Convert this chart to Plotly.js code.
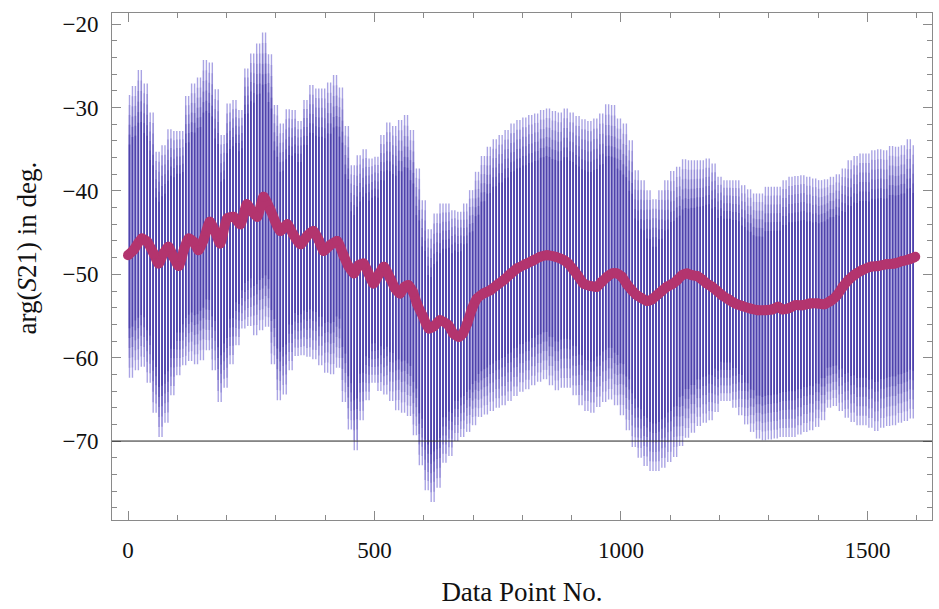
<!DOCTYPE html>
<html>
<head>
<meta charset="utf-8">
<script src="https://cdn.plot.ly/plotly-3.0.1.min.js"></script>
<style>
html,body{margin:0;padding:0;background:#fff;}
#chart{width:939px;height:609px;}
</style>
</head>
<body>
<div id="chart"></div>
<script>
// Raw signal: oscillation peaks (at data points 0,12,24,...) and troughs (at 6,18,30,...), in degrees
const peakStep = 12;
const peaks = [
-28.5,-27.4,-25.5,-27.1,-30.6,-35.3,-34.5,-32.6,-32.8,-32.8,
-28.6,-27.1,-26.4,-24.3,-24.6,-27.8,-33.3,-29.5,-29.1,-30.3,
-25.3,-23.5,-22.3,-21.0,-23.6,-29.7,-31.9,-30.2,-30.3,-31.6,
-29.1,-27.3,-27.7,-27.7,-27.0,-26.1,-27.6,-32.2,-36.9,-35.7,
-35.0,-36.1,-35.9,-33.3,-31.8,-32.2,-31.5,-30.9,-32.7,-37.3,
-41.1,-44.6,-42.7,-41.5,-41.5,-42.3,-42.5,-41.5,-39.9,-37.7,
-35.8,-34.7,-33.8,-33.3,-32.7,-31.9,-31.5,-31.2,-30.9,-30.7,
-30.3,-30.1,-30.4,-30.6,-30.1,-30.6,-31.0,-31.4,-31.6,-31.3,
-30.7,-29.6,-29.7,-31.3,-31.9,-33.9,-37.5,-38.7,-39.9,-41.0,
-39.9,-38.7,-37.6,-37.1,-36.2,-36.3,-36.3,-36.3,-36.1,-36.7,
-38.3,-38.7,-38.7,-38.7,-39.3,-39.8,-40.3,-40.3,-39.5,-39.5,
-39.5,-38.7,-38.3,-38.2,-38.1,-38.3,-38.5,-38.7,-38.6,-38.3,
-38.0,-37.3,-36.3,-35.8,-35.5,-35.5,-35.1,-35.0,-35.1,-34.6,
-34.7,-34.5,-33.8,-34.5
];
const troughs = [
-62.4,-61.5,-61.1,-63.0,-66.6,-69.5,-67.8,-64.5,-62.1,-60.9,
-60.4,-60.8,-60.3,-59.1,-61.5,-65.3,-63.6,-60.8,-58.5,-56.5,
-56.2,-57.3,-56.7,-56.3,-60.8,-65.1,-64.4,-61.5,-59.8,-59.7,
-59.9,-60.2,-60.9,-61.8,-62.0,-61.2,-65.3,-68.6,-71.1,-67.5,
-65.1,-63.0,-64.0,-64.4,-65.2,-66.3,-66.6,-67.0,-69.3,-72.9,
-75.9,-77.3,-75.6,-72.6,-71.8,-70.0,-69.5,-68.9,-68.1,-67.1,
-66.8,-66.4,-66.0,-65.7,-65.2,-64.6,-64.1,-63.8,-63.3,-62.9,
-62.6,-63.3,-63.9,-63.6,-63.6,-64.5,-65.7,-66.4,-66.6,-65.9,
-65.3,-65.0,-65.7,-66.9,-68.7,-70.7,-72.0,-73.0,-73.6,-73.6,
-73.2,-72.5,-71.9,-70.6,-69.6,-69.0,-68.2,-67.8,-67.5,-66.5,
-65.2,-65.2,-66.0,-66.9,-68.0,-68.9,-69.7,-69.9,-69.8,-69.7,
-69.5,-69.5,-69.5,-69.2,-68.9,-68.7,-68.3,-67.5,-66.0,-65.8,
-66.4,-67.2,-67.7,-68.1,-68.1,-68.4,-68.8,-68.4,-68.2,-68.1,
-67.8,-67.6,-67.3
];
// Smoothed signal
const smoothX = [
0,11,28,39,52,62,72,82,92,103,113,123,133,143,153,166,177,187,201,214,
228,241,252,262,275,289,309,323,335,350,363,376,387,397,410,424,437,447,458,468,
478,488,498,508,519,532,542,552,561,569,578,586,598,610,621,633,650,660,671,679,
688,698,708,721,735,748,762,775,789,806,823,836,850,867,884,893,904,913,924,938,
951,961,972,982,992,1002,1012,1022,1032,1043,1053,1063,1073,1083,1093,1103,1114,1124,1134,1144,
1154,1164,1174,1185,1195,1205,1218,1232,1246,1262,1277,1293,1308,1319,1327,1339,1354,1368,1384,1400,
1412,1425,1437,1450,1461,1475,1489,1506,1522,1538,1555,1571,1585,1597
];
const smoothY = [
-47.7,-47.1,-45.7,-46.1,-47.5,-48.7,-47.5,-46.7,-47.9,-49.0,-47.1,-45.7,-46.1,-47.1,-45.9,-43.7,-44.9,-46.3,-43.3,-43.1,
-44.0,-41.6,-42.5,-43.1,-40.7,-42.3,-44.8,-44.0,-45.2,-46.4,-45.4,-44.8,-45.9,-47.2,-46.5,-46.0,-47.7,-49.0,-49.9,-48.9,
-48.7,-49.9,-51.1,-50.1,-49.1,-50.5,-51.7,-52.3,-51.5,-51.3,-52.1,-53.5,-55.0,-56.5,-56.2,-55.5,-56.1,-57.1,-57.5,-57.1,
-55.9,-54.1,-52.9,-52.3,-51.9,-51.3,-50.7,-50.0,-49.3,-48.8,-48.3,-47.9,-47.7,-47.9,-48.3,-48.7,-49.5,-50.2,-51.1,-51.4,
-51.5,-50.9,-50.3,-49.9,-49.9,-50.3,-51.2,-51.9,-52.5,-52.9,-53.2,-53.0,-52.5,-52.0,-51.5,-51.2,-50.7,-50.1,-49.9,-50.1,
-50.2,-50.6,-51.1,-51.5,-52.0,-52.5,-53.0,-53.5,-53.8,-54.1,-54.3,-54.3,-54.2,-53.9,-54.2,-54.1,-53.7,-53.7,-53.5,-53.5,
-53.6,-53.2,-52.6,-51.5,-50.7,-50.0,-49.5,-49.1,-49.0,-48.8,-48.7,-48.4,-48.2,-47.9
];
const xTickVals = [0, 500, 1000, 1500];
const yTickVals = [-20, -30, -40, -50, -60, -70];
const refLevel = -70;

// alternate peaks and troughs, then draw each swing between them as a near-vertical stroke
const vx = [], vy = [];
for (let i = 0; i < peaks.length; i++) {
  vx.push(i * peakStep); vy.push(peaks[i]);
  if (i < troughs.length) { vx.push(i * peakStep + peakStep / 2); vy.push(troughs[i]); }
}
// shading: strokes look paler near their ends, denser in the middle of the swing
function strokes(frac) {
  const sx = [], sy = [];
  for (let i = 0; i + 1 < vx.length; i++) {
    const xm = (vx[i] + vx[i + 1]) / 2;
    const a = vy[i], b = vy[i + 1], mid = (a + b) / 2, half = (a - b) / 2 * frac;
    sx.push(xm, xm, null); sy.push(mid + half, mid - half, null);
  }
  return {sx, sy};
}
const shadeFracs = [1.0, 0.93, 0.86, 0.79, 0.72, 0.65];
const light = [170, 164, 228], dark = [78, 66, 172];

const serif = '"Liberation Serif", "DejaVu Serif", serif';
const traces = shadeFracs.map((f, k) => {
  const t = k / (shadeFracs.length - 1);
  const c = light.map((v, j) => Math.round(v + (dark[j] - v) * t));
  const s = strokes(f);
  return {x: s.sx, y: s.sy, type: 'scatter', mode: 'lines',
          line: {color: 'rgb(' + c.join(',') + ')', width: 1.4}, hoverinfo: 'skip'};
});
traces.push({x: smoothX, y: smoothY, type: 'scatter', mode: 'lines+markers',
  line: {color: '#b3346e', width: 10, shape: 'spline', smoothing: 0.6},
  marker: {color: '#b3346e', size: 10}, hoverinfo: 'skip'});

const axisCommon = {
  showline: true, linecolor: '#8a8a8a', linewidth: 1, mirror: 'ticks',
  ticks: 'inside', tickcolor: '#8a8a8a', ticklen: 9, tickwidth: 1,
  showgrid: false, zeroline: false,
  tickfont: {family: serif, size: 23, color: '#111'}
};
const layout = {
  width: 939, height: 609,
  margin: {l: 112, r: 7, t: 13, b: 89},
  paper_bgcolor: '#fff', plot_bgcolor: '#fff',
  showlegend: false,
  xaxis: Object.assign({}, axisCommon, {
    range: [-32.5, 1631], tickvals: xTickVals, ticktext: xTickVals.map(String),
    minor: {dtick: 100, tick0: 0, ticks: 'inside', ticklen: 5, tickcolor: '#8a8a8a', showgrid: false},
    ticklabelstandoff: 9,
    title: {text: 'Data Point No.', font: {family: serif, size: 27, color: '#111'}, standoff: 20}
  }),
  yaxis: Object.assign({}, axisCommon, {
    range: [-79.47, -18.65], tickvals: yTickVals,
    minor: {dtick: 2, tick0: 0, ticks: 'inside', ticklen: 5, tickcolor: '#8a8a8a', showgrid: false},
    ticklabelstandoff: 8
  }),
  shapes: [{type: 'line', xref: 'paper', x0: 0, x1: 1, yref: 'y', y0: refLevel, y1: refLevel,
            line: {color: '#222', width: 1}, layer: 'above'}],
  annotations: [{
    text: 'arg(<i>S</i>21) in deg.', xref: 'paper', yref: 'paper',
    x: -0.1033, y: 0.536, xanchor: 'center', yanchor: 'middle', textangle: -90,
    showarrow: false, font: {family: serif, size: 27, color: '#111'}
  }]
};
Plotly.newPlot('chart', traces, layout, {displayModeBar: false, staticPlot: true});
</script>
</body>
</html>
